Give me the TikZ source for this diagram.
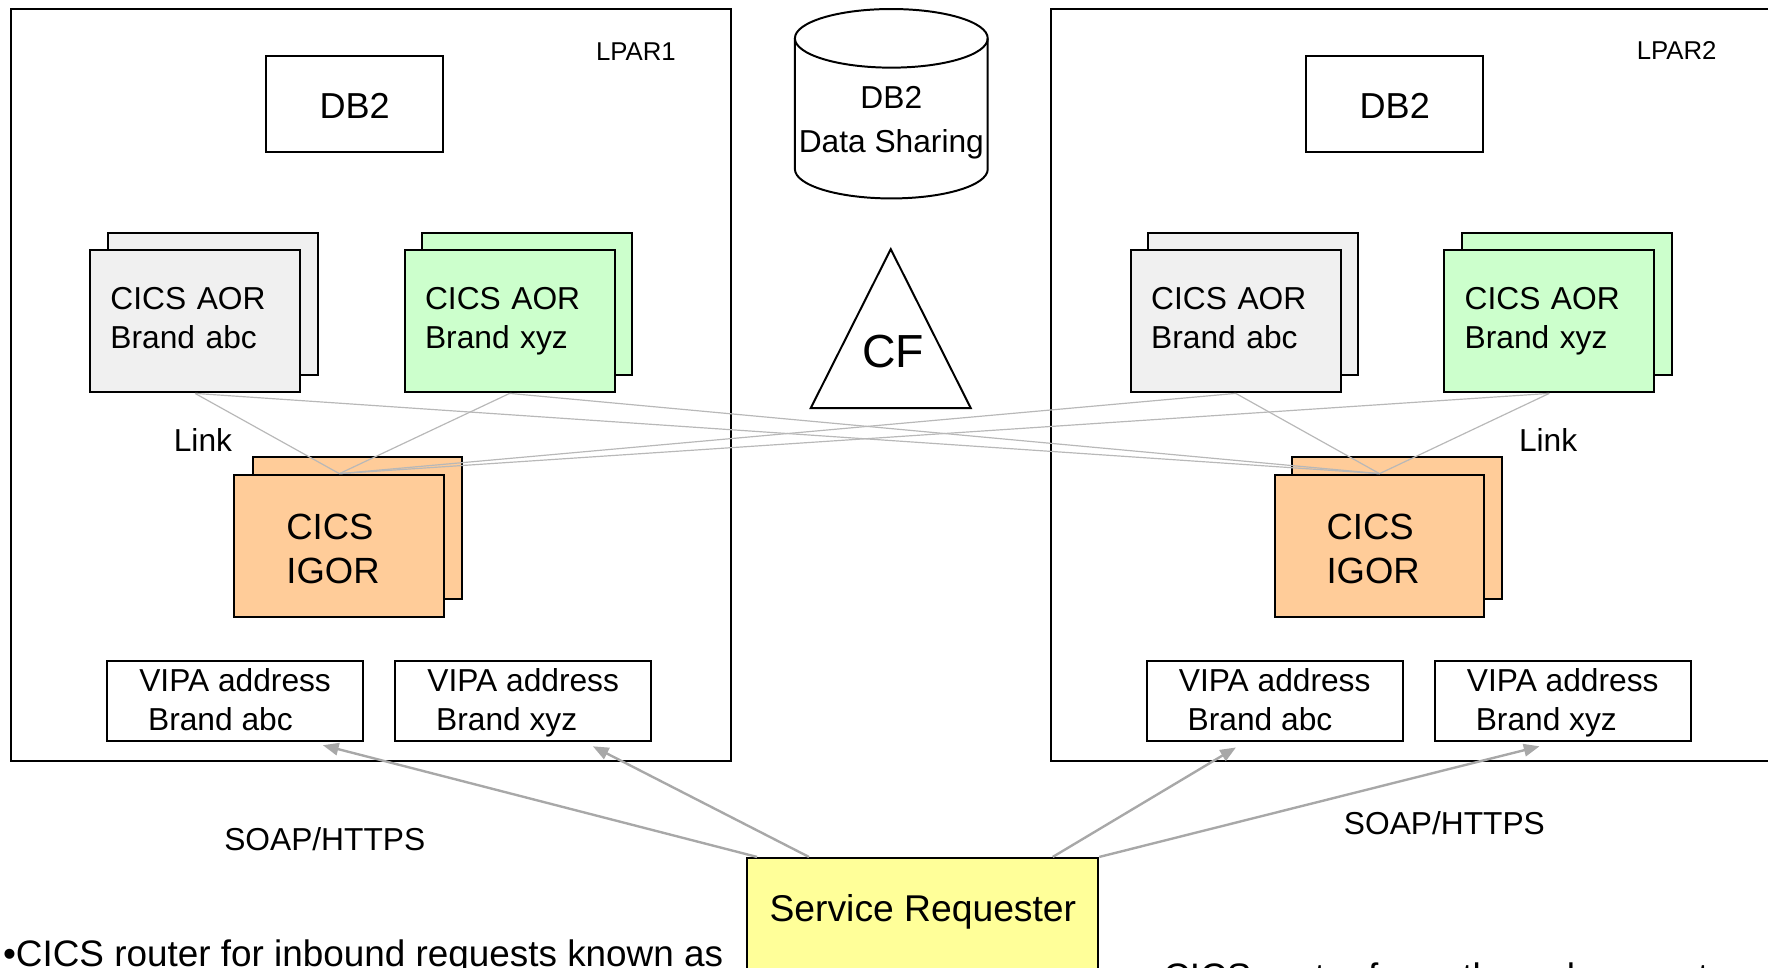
\documentclass[tikz,border=0pt]{standalone}
\usepackage{fontspec}
\setmainfont{Liberation Sans}
\usetikzlibrary{arrows.meta}
\usetikzlibrary{calc}

\definecolor{aorgray}{HTML}{F0F0F0}
\definecolor{aorgreen}{HTML}{CCFFCC}
\definecolor{igororange}{HTML}{FFCC99}
\definecolor{reqyellow}{HTML}{FFFF99}
\definecolor{linkgray}{HTML}{B8B8B8}
\definecolor{arrowgray}{HTML}{A8A8A8}

\begin{document}
\begin{tikzpicture}[x=0.01cm,y=-0.01cm,
		frame/.style={draw,line width=0.55pt},
		box/.style={draw,line width=0.5pt,inner sep=0pt},
		aor/.style={box,minimum width=1.86cm,minimum height=1.26cm,text width=1.5cm,text depth=0.41cm,align=left,font=\fontsize{8}{10}\selectfont},
		igor/.style={box,fill=igororange,minimum width=1.86cm,minimum height=1.26cm,text width=0.94cm,text height=0.28cm,text depth=0.39cm,align=left,font=\fontsize{9.2}{11.1}\selectfont},
		vipa/.style={box,minimum width=2.27cm,minimum height=0.71cm,text height=0.585cm,text depth=0.06cm,align=left,font=\fontsize{8}{9.7}\selectfont},
		dbbox/.style={box,minimum width=1.57cm,minimum height=0.85cm,text height=0.26cm,text depth=0cm,font=\fontsize{9.1}{11}\selectfont},
		reqbox/.style={box,fill=reqyellow,anchor=north,minimum width=3.11cm,inner ysep=0pt,text height=0.56cm,text depth=0.6cm,font=\fontsize{9.4}{11}\selectfont},
		lbl/.style={inner sep=0pt,font=\fontsize{8}{10}\selectfont},
		link/.style={draw=linkgray,line width=0.3pt},
		req/.style={draw=arrowgray,line width=0.6pt,-{Triangle[length=0.14cm,width=0.11cm]}}]
		\clip (0,0) rectangle (1568,858);
		% LPAR frames
		\draw[frame] (10,8) rectangle (648,675);
		\draw[frame] (932,8) rectangle (1620,675);
		\node[lbl,font=\fontsize{6.5}{8}\selectfont] (lparA) at (564,46) {LPAR1};
		\node[lbl,font=\fontsize{6.5}{8}\selectfont] (lparB) at (1487,45) {LPAR2};
		% DB2 and shared data
		\node[dbbox] (dbA) at (314.5,92.5) {DB2};
		\node[dbbox] (dbB) at (1237,92.5) {DB2};
		\draw[line width=0.5pt] (705,34) -- (705,150) arc[start angle=180,end angle=0,x radius=85.5,y radius=26] -- (876,34);
		\draw[line width=0.5pt] (790.5,34) ellipse[x radius=85.5,y radius=26];
		\node[lbl,align=center,font=\fontsize{8}{11.1}\selectfont] (dbshare) at (790.5,109) {DB2\\Data Sharing};
		\draw[line width=0.5pt] (790,221) -- (861,362) -- (719,362) -- cycle;
		\node[lbl,font=\fontsize{11.7}{13}\selectfont] (cf) at (792,312) {CF};
		% CICS AORs
		\node[aor,fill=aorgray] (aorAb) at (189,269.5) {};
		\node[aor,fill=aorgray] (aorA) at (173,285) {CICS AOR\\Brand abc};
		\node[aor,fill=aorgreen] (aorBb) at (467.5,269.5) {};
		\node[aor,fill=aorgreen] (aorB) at (452,285) {CICS AOR\\Brand xyz};
		\node[aor,fill=aorgray] (aorCb) at (1111.5,269.5) {};
		\node[aor,fill=aorgray] (aorC) at (1096,285) {CICS AOR\\Brand abc};
		\node[aor,fill=aorgreen] (aorDb) at (1390,269.5) {};
		\node[aor,fill=aorgreen] (aorD) at (1374,285) {CICS AOR\\Brand xyz};
		% CICS IGORs
		\node[igor] (igorAb) at (317,468) {};
		\node[igor] (igorA) at (301,484) {CICS\\IGOR};
		\node[igor] (igorBb) at (1239,468) {};
		\node[igor] (igorB) at (1223.5,484) {CICS\\IGOR};
		\foreach \a in {aorA,aorB,aorC,aorD}
		\foreach \i in {igorA,igorB}
		\draw[link] (\a.south) -- (\i.north);
		\node[lbl] (linkA) at (180,390) {Link};
		\node[lbl] (linkB) at (1373,390) {Link};
		% VIPA addresses
		\node[vipa] (vipaA) at (208.5,621.5) {VIPA address\\\ Brand abc};
		\node[vipa] (vipaB) at (464,621.5) {VIPA address\\\ Brand xyz};
		\node[vipa] (vipaC) at (1130.5,621.5) {VIPA address\\\ Brand abc};
		\node[vipa] (vipaD) at (1386,621.5) {VIPA address\\\ Brand xyz};
		% requester
		\node[reqbox] (sr) at (818.5,760) {Service Requester};
		\draw[req] ($(sr.north west)!0.03!(sr.north east)$) -- ($(vipaA.south west)!0.84!(vipaA.south east)+(0,3)$);
		\draw[req] ($(sr.north west)!0.177!(sr.north east)$) -- ($(vipaB.south west)!0.77!(vipaB.south east)+(0,4)$);
		\draw[req] ($(sr.north west)!0.868!(sr.north east)$) -- ($(vipaC.south west)!0.35!(vipaC.south east)+(0,5)$);
		\draw[req] ($(sr.north west)!1!(sr.north east)$) -- ($(vipaD.south west)!0.41!(vipaD.south east)+(0,4)$);
		\node[lbl] (soapA) at (288,744) {SOAP/HTTPS};
		\node[lbl] (soapB) at (1281,730) {SOAP/HTTPS};
		% notes below
		\node[lbl,anchor=base west,font=\fontsize{9.3}{11}\selectfont] (noteA) at (2,857) {•CICS router for inbound requests known as};
		\node[lbl,anchor=base west,font=\fontsize{9.3}{11}\selectfont] (noteB) at (1031,878) {CICS router for outbound requests};
	\end{tikzpicture}
\end{document}
